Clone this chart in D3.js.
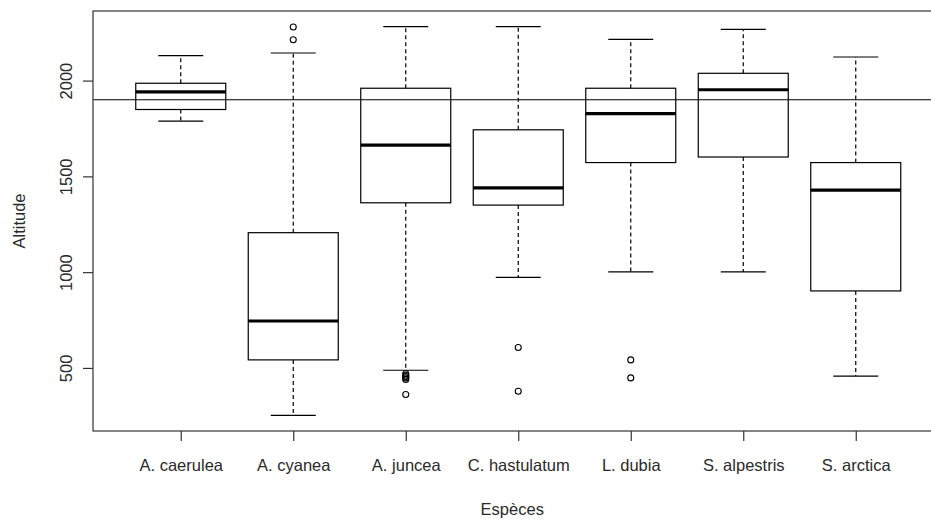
<!DOCTYPE html>
<html><head><meta charset="utf-8">
<script src="https://cdn.jsdelivr.net/npm/d3@7"></script>
<style>body{margin:0;background:#fff}svg{display:block}text{font-family:"Liberation Sans",Arial,sans-serif}</style>
</head><body>
<script>
const categories = ["A. caerulea","A. cyanea","A. juncea","C. hastulatum","L. dubia","S. alpestris","S. arctica"];
const lowerWhisker = [1788, 252, 488, 973, 1001, 1001, 457];
const q1 = [1849, 542, 1362, 1350, 1572, 1601, 902];
const medians = [1941, 745, 1663, 1440, 1827, 1952, 1428];
const q3 = [1986, 1206, 1960, 1743, 1960, 2038, 1572];
const upperWhisker = [2130, 2144, 2282, 2282, 2215, 2267, 2123];
const outliers = [[], [2280, 2213], [470, 462, 455, 448, 440, 361], [607, 378], [542, 448], [], []];
const yTicks = [500, 1000, 1500, 2000];
const refLine = 1900;
const xTitle = "Espèces", yTitle = "Altitude";

const W = 931, H = 519;
const L = 93, T = 11, B = 431, R = 943.5;
const svg = d3.select("body").append("svg").attr("width", W).attr("height", H);

const allVals = lowerWhisker.concat(upperWhisker, outliers.flat());
const lo = d3.min(allVals), hi = d3.max(allVals), pad = (hi - lo) * 0.04;
const y = d3.scaleLinear().domain([lo - pad, hi + pad]).range([B, T]);
const n = categories.length;
const x = d3.scaleLinear().domain([0.5 - n * 0.04, n + 0.5 + n * 0.04]).range([L, R]);
const unit = x(2) - x(1);
const bw = unit * 0.8, sw = unit * 0.4;

const fs = "16.5px", tc = "#2a2a2a";

const g = svg.append("g");
// reference line
g.append("line").attr("x1", L).attr("x2", R).attr("y1", y(refLine)).attr("y2", y(refLine))
  .attr("stroke", "#000").attr("stroke-width", 1.2);

categories.forEach((c, i) => {
  const cx = x(i + 1);
  const bg = g.append("g");
  // whiskers
  bg.append("line").attr("x1", cx).attr("x2", cx).attr("y1", y(q3[i])).attr("y2", y(upperWhisker[i]))
    .attr("stroke", "#000").attr("stroke-dasharray", "4,3").attr("stroke-width", 1.2);
  bg.append("line").attr("x1", cx).attr("x2", cx).attr("y1", y(q1[i])).attr("y2", y(lowerWhisker[i]))
    .attr("stroke", "#000").attr("stroke-dasharray", "4,3").attr("stroke-width", 1.2);
  // caps
  [upperWhisker[i], lowerWhisker[i]].forEach(v => {
    bg.append("line").attr("x1", cx - sw / 2).attr("x2", cx + sw / 2).attr("y1", y(v)).attr("y2", y(v))
      .attr("stroke", "#000").attr("stroke-width", 1.2);
  });
  // box
  bg.append("rect").attr("x", cx - bw / 2).attr("width", bw).attr("y", y(q3[i])).attr("height", y(q1[i]) - y(q3[i]))
    .attr("fill", "none").attr("stroke", "#000").attr("stroke-width", 1.2);
  // median
  bg.append("line").attr("x1", cx - bw / 2).attr("x2", cx + bw / 2).attr("y1", y(medians[i])).attr("y2", y(medians[i]))
    .attr("stroke", "#000").attr("stroke-width", 3.2);
  // outliers
  outliers[i].forEach(v => {
    bg.append("circle").attr("cx", cx).attr("cy", y(v)).attr("r", 3)
      .attr("fill", "none").attr("stroke", "#000").attr("stroke-width", 1.1);
  });
});

// frame (left, top, bottom; right is beyond the canvas)
svg.append("rect").attr("x", L).attr("y", T).attr("width", R - L).attr("height", B - T)
  .attr("fill", "none").attr("stroke", "#333").attr("stroke-width", 1.2);

// y axis
const ya = svg.append("g").attr("transform", `translate(${L},0)`)
  .call(d3.axisLeft(y).tickValues(yTicks).tickSize(10).tickSizeOuter(0).tickFormat(d3.format("d")));
ya.select(".domain").remove();
ya.selectAll(".tick line").attr("stroke", "#333").attr("stroke-width", 1.2);
ya.selectAll(".tick text").attr("x", null).attr("dy", null)
  .attr("transform", "translate(-21,0) rotate(-90)").attr("text-anchor", "middle")
  .style("font-size", fs).attr("fill", tc).attr("font-family", null);

// x axis
const xa = svg.append("g").attr("transform", `translate(0,${B})`)
  .call(d3.axisBottom(x).tickValues(d3.range(1, n + 1)).tickSize(10).tickSizeOuter(0)
    .tickFormat(d => categories[d - 1]));
xa.select(".domain").remove();
xa.selectAll(".tick line").attr("stroke", "#333").attr("stroke-width", 1.2);
xa.selectAll(".tick text").attr("y", 40).attr("dy", null)
  .style("font-size", fs).attr("fill", tc).attr("font-family", null);

// titles
svg.append("text").attr("x", (L + R) / 2 - 6).attr("y", 515).attr("text-anchor", "middle")
  .style("font-size", fs).attr("fill", tc).text(xTitle);
svg.append("text").attr("transform", `translate(25,${(T + B) / 2}) rotate(-90)`).attr("text-anchor", "middle")
  .style("font-size", fs).attr("fill", tc).text(yTitle);
</script>
</body></html>
